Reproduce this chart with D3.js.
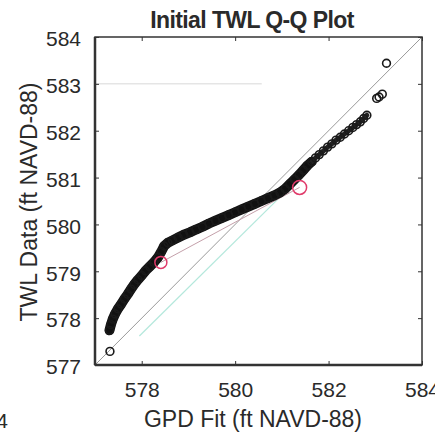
<!DOCTYPE html>
<html>
<head>
<meta charset="UTF-8">
<script src="https://d3js.org/d3.v7.min.js"></script>
<style>
  body { margin: 0; background: #fff; }
  text { font-family: "Liberation Sans", Arial, sans-serif; fill: #2a2a2a; }
</style>
</head>
<body>
<svg id="chart" width="435" height="438"></svg>
<script>
// Q-Q pairs (GPD fit quantile vs TWL data)
const gpdFit = [577.32, 577.31, 577.34, 577.38, 577.43, 577.49, 577.56, 577.63, 577.70, 577.77,
  577.84, 577.92, 578.00, 578.08, 578.17, 578.26, 578.35, 578.42, 578.48, 578.56,
  578.66, 578.78, 578.90, 579.03, 579.16, 579.30, 579.44, 579.58, 579.72, 579.86,
  580.00, 580.14, 580.28, 580.42, 580.56, 580.70, 580.84, 580.96, 581.07, 581.17,
  581.27, 581.37, 581.46, 581.55, 581.64, 581.72, 581.80, 581.89, 581.98, 582.07,
  582.16, 582.25, 582.34, 582.43, 582.52, 582.60, 582.68, 582.75, 582.82, 583.03,
  583.08, 583.15, 583.24];
const twlData = [577.29, 577.74, 577.86, 577.98, 578.09, 578.20, 578.30, 578.41, 578.51, 578.62,
  578.72, 578.82, 578.91, 579.01, 579.10, 579.19, 579.30, 579.42, 579.54, 579.61,
  579.66, 579.72, 579.78, 579.83, 579.89, 579.95, 580.02, 580.08, 580.14, 580.20,
  580.26, 580.32, 580.38, 580.44, 580.50, 580.56, 580.62, 580.68, 580.76, 580.86,
  580.96, 581.06, 581.16, 581.26, 581.34, 581.42, 581.49, 581.57, 581.65, 581.72,
  581.80, 581.86, 581.93, 582.00, 582.07, 582.13, 582.19, 582.26, 582.33, 582.69,
  582.72, 582.78, 583.44];
// highlighted points (red circles)
const markX = [578.41, 581.38];
const markY = [579.19, 580.79];
const markR = [6, 7];
// reference lines
const refLine = [[577, 577], [584, 584]];
const tealLine = [[577.95, 577.62], [581.1, 580.72]];
const xTicks = [578, 580, 582, 584];
const yTicks = [577, 578, 579, 580, 581, 582, 583, 584];

const svg = d3.select("#chart");
const x = d3.scaleLinear().domain([577, 584]).range([95, 422]);
const y = d3.scaleLinear().domain([577, 584]).range([365, 37]);

const pts = gpdFit.map((v, i) => ({ x: v, y: twlData[i] }));

// faint gridline artifact at 583
svg.append("line")
  .attr("x1", x(577)).attr("x2", x(580.57))
  .attr("y1", y(583)).attr("y2", y(583))
  .attr("stroke", "#d8d8d8").attr("stroke-width", 1);

// y = x line
svg.append("line")
  .attr("x1", x(refLine[0][0])).attr("y1", y(refLine[0][1]))
  .attr("x2", x(refLine[1][0])).attr("y2", y(refLine[1][1]))
  .attr("stroke", "#9a9a9a").attr("stroke-width", 1);

svg.append("line")
  .attr("x1", x(tealLine[0][0])).attr("y1", y(tealLine[0][1]))
  .attr("x2", x(tealLine[1][0])).attr("y2", y(tealLine[1][1]))
  .attr("stroke", "#b4e8dc").attr("stroke-width", 1.2);

// line between the marked points
svg.append("line")
  .attr("x1", x(markX[0])).attr("y1", y(markY[0]))
  .attr("x2", x(markX[1])).attr("y2", y(markY[1]))
  .attr("stroke", "#c4a0aa").attr("stroke-width", 1);

// dense band of overlapping markers
const line = d3.line().x(d => x(d.x)).y(d => y(d.y));
svg.append("path")
  .datum(pts.slice(1, 45))
  .attr("d", line)
  .attr("fill", "none")
  .attr("stroke", "#111")
  .attr("stroke-width", 10)
  .attr("stroke-linecap", "round")
  .attr("stroke-linejoin", "round");
svg.append("path")
  .datum(pts.slice(44, 59))
  .attr("d", line)
  .attr("fill", "none")
  .attr("stroke", "#222")
  .attr("stroke-width", 5)
  .attr("stroke-linecap", "round")
  .attr("stroke-linejoin", "round");

svg.selectAll(".pt")
  .data(pts)
  .enter().append("circle")
  .attr("class", "pt")
  .attr("cx", d => x(d.x))
  .attr("cy", d => y(d.y))
  .attr("r", 3.9)
  .attr("fill", "none")
  .attr("stroke", "#1a1a1a")
  .attr("stroke-width", 1.6);

svg.selectAll(".mark")
  .data(markX)
  .enter().append("circle")
  .attr("class", "mark")
  .attr("cx", d => x(d))
  .attr("cy", (d, i) => y(markY[i]))
  .attr("r", (d, i) => markR[i])
  .attr("fill", "none")
  .attr("stroke", "#e03a6a")
  .attr("stroke-width", 1.5);

// axes box
svg.append("rect")
  .attr("x", x(577)).attr("y", y(584))
  .attr("width", x(584) - x(577)).attr("height", y(577) - y(584))
  .attr("fill", "none").attr("stroke", "#333").attr("stroke-width", 1.5);
svg.append("line").attr("x1", x(577)).attr("x2", x(584)).attr("y1", y(577)).attr("y2", y(577))
  .attr("stroke", "#333").attr("stroke-width", 2.5);
svg.append("line").attr("x1", x(577)).attr("x2", x(577)).attr("y1", y(577)).attr("y2", y(584))
  .attr("stroke", "#333").attr("stroke-width", 2.5);

const xAxis = svg.append("g")
  .attr("transform", `translate(0,${y(577)})`)
  .call(d3.axisBottom(x).tickValues(xTicks).tickSize(-4).tickPadding(17).tickFormat(d3.format("d")));
const yAxis = svg.append("g")
  .attr("transform", `translate(${x(577)},0)`)
  .call(d3.axisLeft(y).tickValues(yTicks).tickSize(-4).tickPadding(14).tickFormat(d3.format("d")));
// mirrored ticks on top and right
svg.append("g")
  .attr("transform", `translate(0,${y(584)})`)
  .call(d3.axisTop(x).tickValues(xTicks).tickSize(-4).tickFormat(""));
svg.append("g")
  .attr("transform", `translate(${x(584)},0)`)
  .call(d3.axisRight(y).tickValues(yTicks).tickSize(-4).tickFormat(""));

svg.selectAll(".domain").remove();
svg.selectAll(".tick line").attr("stroke", "#333");
svg.selectAll(".tick text").style("font-size", "21px").attr("fill", "#2a2a2a");
yAxis.selectAll(".tick text").attr("dy", "0.42em");

svg.append("text")
  .attr("x", 252).attr("y", 28)
  .attr("text-anchor", "middle")
  .style("font-size", "23px").style("font-weight", "bold")
  .style("letter-spacing", "-0.6px")
  .text("Initial TWL Q-Q Plot");

svg.append("text")
  .attr("x", 253).attr("y", 427)
  .attr("text-anchor", "middle")
  .style("font-size", "23px")
  .text("GPD Fit (ft NAVD-88)");

svg.append("text")
  .attr("transform", "translate(37,202) rotate(-90)")
  .attr("text-anchor", "middle")
  .style("font-size", "23px")
  .text("TWL Data (ft NAVD-88)");

// edge of the neighbouring panel's label
svg.append("text")
  .attr("x", 8).attr("y", 428)
  .attr("text-anchor", "end")
  .style("font-size", "21px")
  .text("4");
</script>
</body>
</html>
